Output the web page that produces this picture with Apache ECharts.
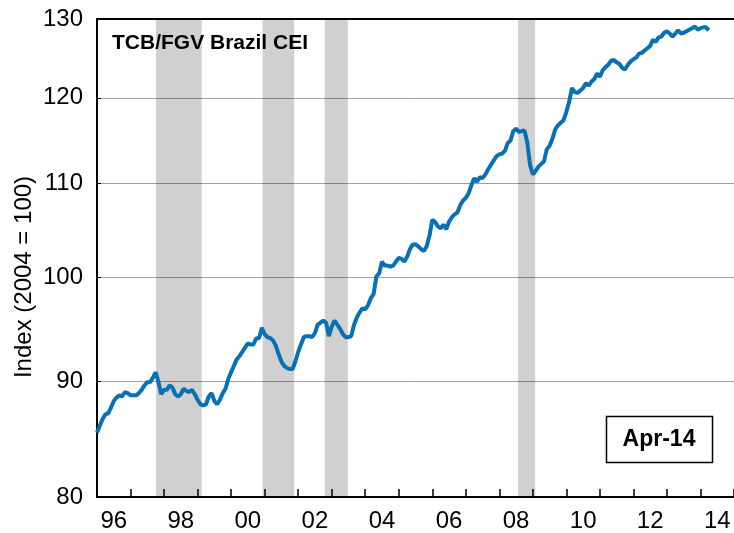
<!DOCTYPE html>
<html><head><meta charset="utf-8">
<script src="https://cdn.jsdelivr.net/npm/echarts@6/dist/echarts.min.js"></script>
<style>html,body{margin:0;padding:0;background:#fff}#c{width:734px;height:533px}</style>
</head><body><div id="c"></div>
<script>
// ---- data ----
const startYear = 1996; // monthly series starts January 1996
const ceiValues = [
  85.4, 86.0, 86.6, 87.0, 87.1, 87.6, 88.2, 88.5, 88.7, 88.6, 89.0, 88.9,
  88.7, 88.7, 88.7, 88.9, 89.2, 89.6, 89.9, 89.9, 90.3, 90.8, 89.9, 88.8,
  89.2, 89.2, 89.6, 89.4, 88.8, 88.6, 88.8, 89.3, 89.1, 89.0, 89.2, 88.8,
  88.3, 87.9, 87.8, 87.9, 88.6, 88.9, 88.2, 87.9, 88.3, 88.9, 89.3, 90.2,
  90.8, 91.4, 92.0, 92.3, 92.7, 93.1, 93.5, 93.4, 93.4, 94.0, 94.0, 95.0,
  94.4, 94.1, 94.0, 93.8, 93.3, 92.5, 91.8, 91.4, 91.2, 91.1, 91.1, 91.8,
  92.7, 93.4, 94.1, 94.2, 94.2, 94.1, 94.5, 95.3, 95.5, 95.7, 95.5, 94.2,
  95.1, 95.7, 95.3, 94.9, 94.4, 94.1, 94.1, 94.2, 95.3, 96.0, 96.5, 96.9,
  96.8, 97.2, 97.9, 98.3, 100.1, 100.4, 101.6, 101.2, 101.2, 101.1, 101.2, 101.6,
  102.0, 101.9, 101.6, 102.1, 102.9, 103.4, 103.4, 103.2, 102.9, 102.7, 103.2, 104.3,
  106.0, 105.8, 105.3, 105.1, 105.5, 105.0, 105.8, 106.3, 106.6, 106.8, 107.6, 108.1,
  108.4, 108.9, 109.8, 110.6, 110.2, 110.7, 110.6, 111.0, 111.6, 112.1, 112.6, 113.1,
  113.3, 113.4, 113.7, 114.6, 114.9, 116.0, 116.3, 115.9, 116.0, 116.1, 114.7, 112.1,
  111.0, 111.4, 111.9, 112.2, 112.5, 113.9, 114.3, 115.1, 116.2, 116.7, 117.0, 117.3,
  118.3, 119.5, 121.2, 120.7, 120.6, 120.9, 121.2, 121.8, 121.5, 122.0, 122.3, 123.0,
  122.6, 123.4, 123.8, 124.1, 124.6, 124.7, 124.4, 124.2, 123.7, 123.5, 124.1, 124.5,
  124.8, 125.0, 125.5, 125.6, 125.9, 126.2, 126.5, 127.3, 127.0, 127.6, 127.7, 128.2,
  128.4, 128.1, 127.7, 128.1, 128.5, 128.1, 128.2, 128.4, 128.6, 128.8, 129.0, 128.6,
  128.8, 128.9, 128.9, 128.5
];
const recessionStarts = [1997.76, 2000.94, 2002.79, 2008.56];
const recessionEnds   = [1999.125, 2001.88, 2003.48, 2009.07];
const yTickValues = [80, 90, 100, 110, 120, 130];
const xLabelYears = [1996, 1998, 2000, 2002, 2004, 2006, 2008, 2010, 2012, 2014];
const xMin = 1996, xMax = 2015;
const chartTitle = 'TCB/FGV Brazil CEI';
const latestLabel = 'Apr-14';
const yAxisTitle = 'Index (2004 = 100)';

// ---- build ----
const seriesData = ceiValues.map((v, i) => [startYear + i / 12, v]);
const areas = recessionStarts.map((s, i) => [{ xAxis: s }, { xAxis: recessionEnds[i] }]);
const FONT = '"Liberation Sans", Arial, sans-serif';

const chart = echarts.init(document.getElementById('c'), null, { renderer: 'canvas' });
chart.setOption({
  animation: false,
  backgroundColor: '#fff',
  grid: { left: 97, top: 19, right: -1, bottom: 36, containLabel: false },
  xAxis: [{
    type: 'value', min: xMin, max: xMax, interval: 1,
    axisLine: { show: true, onZero: false, lineStyle: { color: '#000', width: 2 } },
    axisTick: { show: true, inside: true, length: 8, lineStyle: { color: '#000', width: 1.5 } },
    axisLabel: {
      customValues: xLabelYears.map(y => y + 0.5),
      formatter: v => String(Math.floor(v) % 100).padStart(2, '0'),
      color: '#000', fontSize: 24, fontFamily: FONT, margin: 12
    },
    splitLine: { show: false }
  }, {
    type: 'value', min: xMin, max: xMax, position: 'top',
    axisLine: { show: true, onZero: false, lineStyle: { color: '#000', width: 2 } },
    axisTick: { show: false }, axisLabel: { show: false }, splitLine: { show: false }
  }],
  yAxis: {
    type: 'log', logBase: 10, min: 80, max: 130,
    axisLine: { show: true, lineStyle: { color: '#000', width: 2 } },
    axisTick: { show: true, inside: true, length: 4, customValues: yTickValues, lineStyle: { color: '#000', width: 1 } },
    axisLabel: { customValues: yTickValues, formatter: v => String(Math.round(v)), color: '#000', fontSize: 24, fontFamily: FONT, margin: 14 },
    splitLine: { show: true, lineStyle: { color: '#a0a0a0', width: 1 } }
  },
  series: [{
    type: 'line', data: [], z: 1, silent: true,
    markArea: { silent: true, itemStyle: { color: 'rgba(0,0,0,0.185)' }, data: areas }
  }, {
    type: 'line', data: seriesData, z: 3, showSymbol: false, smooth: false,
    lineStyle: { color: '#0870b4', width: 4 }
  }],
  graphic: [
    { type: 'text', x: 112, y: 43.5, z: 10,
      style: { text: chartTitle, font: 'bold 21px ' + FONT, fill: '#000', align: 'left', verticalAlign: 'middle', textAlign: 'left', textVerticalAlign: 'middle' } },
    { type: 'text', x: 24, y: 277, rotation: Math.PI / 2, z: 10,
      style: { text: yAxisTitle, font: '24px ' + FONT, fill: '#000', align: 'center', verticalAlign: 'middle', textAlign: 'center', textVerticalAlign: 'middle' } },
    { type: 'rect', z: 10, shape: { x: 606.5, y: 416.5, width: 106, height: 46 },
      style: { fill: '#fff', stroke: '#000', lineWidth: 1.5 } },
    { type: 'text', x: 659, y: 440, z: 11,
      style: { text: latestLabel, font: 'bold 23px ' + FONT, fill: '#000', align: 'center', verticalAlign: 'middle', textAlign: 'center', textVerticalAlign: 'middle' } }
  ]
});
</script></body></html>
